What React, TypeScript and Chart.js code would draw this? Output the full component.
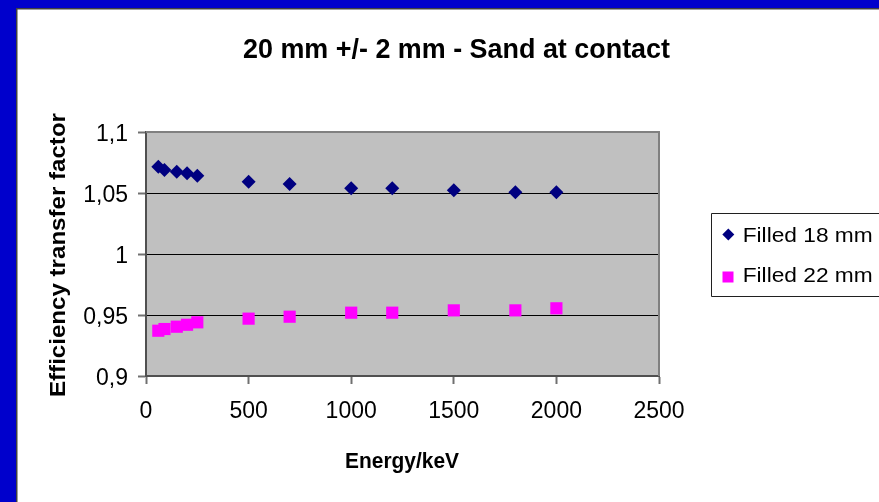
import React, { useEffect, useRef } from "react";
import { Chart, registerables } from "chart.js";

Chart.register(...registerables);

// ---- data ----
const energies = [60, 90, 150, 200, 250, 500, 700, 1000, 1200, 1500, 1800, 2000];
const filled18 = [1.0716, 1.0689, 1.0675, 1.0661, 1.0642, 1.0593, 1.0574, 1.0539, 1.0539, 1.0522, 1.0506, 1.0506];
const filled22 = [0.9371, 0.9385, 0.9404, 0.942, 0.944, 0.947, 0.9486, 0.9519, 0.9519, 0.9538, 0.9538, 0.9555];
const seriesNames = ["Filled 18 mm", "Filled 22 mm"];
const titleText = "20 mm +/- 2 mm - Sand at contact";
const xTitleText = "Energy/keV";
const yTitleText = "Efficiency transfer factor";
const xMin = 0;
const xMax = 2500;
const xStep = 500;
const yMin = 0.9;
const yMax = 1.1;
const yStep = 0.05;

const FONT = "'Liberation Sans', Arial, Helvetica, sans-serif";
const NAVY = "#000080";
const MAGENTA = "#FF00FF";

function drawFitted(
  ctx: CanvasRenderingContext2D,
  text: string,
  x: number,
  y: number,
  font: string,
  width: number,
  align: CanvasTextAlign
) {
  ctx.save();
  ctx.font = font;
  const w = ctx.measureText(text).width;
  const s = width / w;
  ctx.translate(x, y);
  ctx.scale(s, 1);
  ctx.textAlign = align;
  ctx.textBaseline = "alphabetic";
  ctx.fillStyle = "#000";
  ctx.fillText(text, 0, 0);
  ctx.restore();
}

const framePlugin = {
  id: "framePlugin",
  beforeDraw(chart: any) {
    const { ctx, width, height, chartArea } = chart;
    ctx.save();
    ctx.fillStyle = "#ffffff";
    ctx.fillRect(0, 0, width, height);
    ctx.fillStyle = "rgb(0,0,204)";
    ctx.fillRect(0, 0, 16, height);
    ctx.fillRect(0, 0, width, 8);
    ctx.strokeStyle = "#404040";
    ctx.lineWidth = 1.5;
    ctx.beginPath();
    ctx.moveTo(16.75, height);
    ctx.lineTo(16.75, 8.75);
    ctx.lineTo(width, 8.75);
    ctx.stroke();
    // plot area background
    ctx.fillStyle = "#C0C0C0";
    ctx.fillRect(chartArea.left, chartArea.top, chartArea.right - chartArea.left, chartArea.bottom - chartArea.top);
    ctx.restore();
  },
  beforeDatasetsDraw(chart: any) {
    const { ctx, chartArea } = chart;
    ctx.save();
    ctx.strokeStyle = "#808080";
    ctx.lineWidth = 2;
    ctx.beginPath();
    ctx.moveTo(chartArea.left, chartArea.top);
    ctx.lineTo(chartArea.right, chartArea.top);
    ctx.lineTo(chartArea.right, chartArea.bottom);
    ctx.stroke();
    ctx.restore();
  },
  afterDraw(chart: any) {
    const { ctx } = chart;
    drawFitted(ctx, titleText, 456.5, 58.3, `bold 28px ${FONT}`, 427, "center");
    drawFitted(ctx, xTitleText, 402, 468, `bold 22px ${FONT}`, 114, "center");
    ctx.save();
    ctx.translate(65, 255);
    ctx.rotate(-Math.PI / 2);
    drawFitted(ctx, yTitleText, 0, 0, `bold 22px ${FONT}`, 284, "center");
    ctx.restore();
    // legend
    ctx.save();
    ctx.strokeStyle = "#202020";
    ctx.lineWidth = 1;
    ctx.beginPath();
    ctx.moveTo(chart.width + 2, 213.5);
    ctx.lineTo(711.5, 213.5);
    ctx.lineTo(711.5, 296.5);
    ctx.lineTo(chart.width + 2, 296.5);
    ctx.stroke();
    ctx.fillStyle = NAVY;
    ctx.beginPath();
    ctx.moveTo(728.3, 228.5);
    ctx.lineTo(734.3, 234.5);
    ctx.lineTo(728.3, 240.5);
    ctx.lineTo(722.3, 234.5);
    ctx.closePath();
    ctx.fill();
    ctx.fillStyle = MAGENTA;
    ctx.fillRect(722.5, 271.5, 11, 11);
    ctx.restore();
    drawFitted(ctx, seriesNames[0], 742.7, 241.7, `20px ${FONT}`, 130, "left");
    drawFitted(ctx, seriesNames[1], 742.7, 282.3, `20px ${FONT}`, 130, "left");
  },
};

export default function App() {
  const canvasRef = useRef<HTMLCanvasElement | null>(null);

  useEffect(() => {
    if (!canvasRef.current) return;
    const chart = new Chart(canvasRef.current, {
      type: "scatter",
      data: {
        datasets: [
          {
            label: seriesNames[0],
            data: energies.map((e, i) => ({ x: e, y: filled18[i] })),
            pointStyle: "rectRot",
            radius: 7,
            backgroundColor: NAVY,
            borderColor: NAVY,
            borderWidth: 0,
          },
          {
            label: seriesNames[1],
            data: energies.map((e, i) => ({ x: e, y: filled22[i] })),
            pointStyle: "rect",
            radius: 8.6,
            backgroundColor: MAGENTA,
            borderColor: MAGENTA,
            borderWidth: 0,
          },
        ],
      },
      options: {
        responsive: false,
        maintainAspectRatio: false,
        devicePixelRatio: 1,
        animation: false,
        layout: { padding: { left: 0, top: 132, right: 220, bottom: 0 } },
        plugins: {
          legend: { display: false },
          title: { display: false },
          tooltip: { enabled: false },
        },
        scales: {
          x: {
            type: "linear",
            min: xMin,
            max: xMax,
            afterFit: (scale: any) => {
              scale.height = 126;
            },
            ticks: {
              stepSize: xStep,
              color: "#000",
              font: { family: FONT, size: 23 },
              padding: 14,
              maxRotation: 0,
              callback: (v: any) => String(v),
            },
            grid: {
              drawOnChartArea: false,
              drawTicks: true,
              tickLength: 8,
              tickColor: "#707070",
              tickWidth: 2,
            },
            border: { display: true, color: "#505050", width: 2 },
          },
          y: {
            type: "linear",
            min: yMin,
            max: yMax,
            afterFit: (scale: any) => {
              scale.width = 146;
            },
            ticks: {
              stepSize: yStep,
              color: "#000",
              font: { family: FONT, size: 23 },
              padding: 10,
              labelOffset: 3,
              callback: (v: any) => String(Math.round(Number(v) * 100) / 100).replace(".", ","),
            },
            grid: {
              drawOnChartArea: true,
              drawTicks: true,
              tickLength: 8,
              tickColor: "#707070",
              tickWidth: 2,
              lineWidth: 1,
              color: (c: any) => {
                const v = c.tick ? c.tick.value : null;
                if (v === null) return "#000";
                if (Math.abs(v - yMin) < 1e-6 || Math.abs(v - yMax) < 1e-6) return "rgba(0,0,0,0)";
                return "#000";
              },
            },
            border: { display: true, color: "#505050", width: 2 },
          },
        },
      },
      plugins: [framePlugin],
    });
    return () => chart.destroy();
  }, []);

  return (
    <div style={{ position: "fixed", left: 0, top: 0, width: 879, height: 502, background: "#fff" }}>
      <canvas ref={canvasRef} width={879} height={502} style={{ display: "block" }} />
    </div>
  );
}
